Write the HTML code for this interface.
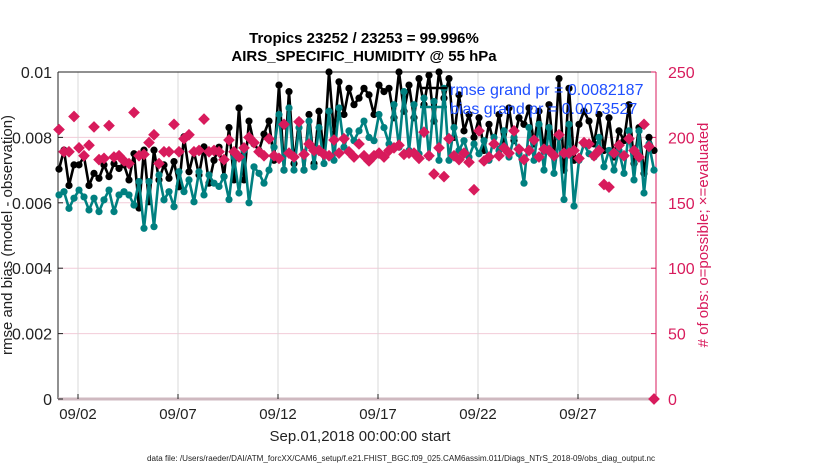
<!DOCTYPE html>
<html><head><meta charset="utf-8"><style>
body{margin:0;background:#fff;}
svg{font-family:"Liberation Sans",sans-serif;}
</style></head><body>
<svg id="chart" width="830" height="470">
</svg>
<script>
const rmseValues=[7.03,7.61,6.53,7.16,7.16,7.41,6.53,6.90,6.75,7.16,6.80,7.20,7.05,7.16,6.70,7.50,5.84,7.61,6.03,7.61,6.70,7.16,6.75,7.26,6.49,8.02,6.95,7.56,6.85,7.71,6.60,
7.3,7.7,6.8,8.3,6.7,8.9,6.7,8.5,7.8,7.6,8.1,8.5,7.3,9.6,7.0,9.4,7.2,8.5,7.0,8.7,7.2,8.8,7.5,10.0,8.1,9.7,8.7,9.5,9.0,9.2,
9.5,9.3,8.7,9.6,9.4,9.5,8.6,10.0,8.8,9.6,8.6,9.8,9.0,9.9,8.5,10.0,9.2,9.8,8.0,9.3,8.2,8.7,8.0,8.6,7.6,8.4,7.8,8.7,7.7,8.9,7.9,8.6,
8.4,8.9,7.8,8.8,7.6,9.0,7.4,9.8,7.0,9.5,7.3,8.4,8.8,8.5,7.8,8.7,7.6,8.6,7.4,8.2,7.9,9.0,7.2,8.3,6.9,8.0,7.6].map(v=>v/1000);
const biasValues=[6.24,6.34,5.83,6.14,6.39,6.18,5.78,6.14,5.73,6.09,6.39,5.73,6.24,6.34,6.24,5.93,6.65,5.22,6.65,5.27,6.85,6.09,6.34,5.88,6.95,6.34,6.70,6.03,6.95,6.24,6.85,
6.6,6.5,6.8,6.1,7.4,6.3,7.6,6.0,7.1,6.9,6.6,7.0,7.7,8.7,7.0,8.9,7.0,8.3,7.0,8.5,7.1,8.3,7.2,8.8,7.3,8.9,7.7,8.2,7.9,8.2,
8.5,8.0,7.9,8.7,8.3,7.8,9.0,7.7,9.4,7.6,9.0,7.5,9.2,7.4,9.1,7.3,9.5,7.3,8.3,7.6,7.9,7.4,7.8,7.5,7.9,7.3,8.0,7.6,8.2,7.4,8.0,7.5,
6.6,8.3,7.3,8.4,7.0,8.3,6.9,8.0,6.1,8.4,5.9,7.3,7.8,7.5,7.4,8.0,7.1,7.6,7.0,7.6,6.9,8.2,6.7,8.2,6.3,7.8,7.0].map(v=>v/1000);
const obsCounts=[206,189,189,216,192,186,194,208,183,184,209,185,186,182,180,219,186,187,196,202,180,189,189,210,189,199,202,189,190,214,189,
190,189,183,198,189,185,192,200,196,189,186,199,186,184,210,188,185,212,187,195,190,190,187,186,198,188,199,189,185,195,186,
182,186,188,185,190,192,194,187,188,188,184,204,186,172,192,170,199,186,183,188,181,160,205,182,185,195,186,192,188,205,191,183,
190,198,185,191,190,186,202,188,188,190,184,196,195,186,190,164,162,188,194,186,199,190,185,210,193,0];
const leftTicks=[0,0.002,0.004,0.006,0.008,0.01];
const rightTicks=[0,50,100,150,200,250];
const dateTicks=[2,7,12,17,22,27];
const dateLabels=["09/02","09/07","09/12","09/17","09/22","09/27"];

const NS="http://www.w3.org/2000/svg";
const svg=document.getElementById('chart');
const L=58,R=656,T=72,B=399;
const xS=d=>L+(d-1)*20;
const yL=v=>B-(v/0.01)*(B-T);
const yR=v=>B-(v/250)*(B-T);
const dayOf=i=>1.05+i*0.25;
function mk(tag,attrs,parent){const e=document.createElementNS(NS,tag);for(const k in attrs)e.setAttribute(k,attrs[k]);(parent||svg).appendChild(e);return e;}
const PINK="#d81b5c",TEAL="#008080";
rightTicks.forEach((t,i)=>{const g=mk('line',{x1:L,x2:R,y1:yR(t),y2:yR(t),stroke:'#f2cbd8','stroke-width':1});

});
dateTicks.forEach(d=>{const g=mk('line',{x1:xS(d),x2:xS(d),y1:T,y2:B,stroke:'#d8d8d8','stroke-width':1});

});
let a=mk('line',{x1:L,x2:L,y1:T,y2:B,stroke:'#222','stroke-width':1});


a=mk('line',{x1:L,x2:R,y1:T,y2:T,stroke:'#222','stroke-width':1});


a=mk('line',{x1:R,x2:R,y1:T,y2:B,stroke:PINK,'stroke-width':1});


a=mk('line',{x1:L,x2:R,y1:B,y2:B,stroke:'#cfb9c0','stroke-width':3});


leftTicks.forEach(t=>{const y=yL(t);
mk('line',{x1:L,x2:L+5,y1:y,y2:y,stroke:'#222'});
const tx=mk('text',{x:L-6,y:y+6,'text-anchor':'end','font-size':16,fill:'#222'});tx.textContent=String(t);

});
rightTicks.forEach(t=>{const y=yR(t);
mk('line',{x1:R-5,x2:R,y1:y,y2:y,stroke:PINK});
const tx=mk('text',{x:R+12,y:y+6,'font-size':16,fill:PINK});tx.textContent=String(t);

});
dateTicks.forEach((d,i)=>{mk('line',{x1:xS(d),x2:xS(d),y1:B-5,y2:B,stroke:'#222'});
const tx=mk('text',{x:xS(d),y:B+20,'text-anchor':'middle','font-size':15,fill:'#222'});tx.textContent=dateLabels[i];

});
function series(vals,color,name){
const pts=vals.map((v,i)=>xS(dayOf(i))+','+yL(v)).join(' ');
const pl=mk('polyline',{points:pts,fill:'none',stroke:color,'stroke-width':2.6,'stroke-linejoin':'round'});


vals.forEach((v,i)=>{const c=mk('circle',{cx:xS(dayOf(i)),cy:yL(v),r:3.6,fill:color});

});}
series(rmseValues,'#000','rmse');
series(biasValues,TEAL,'bias');
obsCounts.forEach((v,i)=>{const x=xS(dayOf(i)),y=yR(v);const s=4.8;
const p=mk('path',{d:`M${x} ${y-s}L${x+s} ${y}L${x} ${y+s}L${x-s} ${y}Z`,fill:PINK,stroke:PINK,'stroke-width':1.5});

});
</script>
<svg width="830" height="470" style="position:absolute;left:0;top:0">
<text x="364" y="43" text-anchor="middle" font-size="15" font-weight="bold" fill="#000">Tropics 23252 / 23253 = 99.996%</text>
<text x="364" y="61" text-anchor="middle" font-size="15" font-weight="bold" fill="#000">AIRS_SPECIFIC_HUMIDITY @ 55 hPa</text>
<line x1="420" x2="447" y1="88" y2="88" stroke="#000" stroke-width="2.5"/>
<line x1="420" x2="447" y1="107" y2="107" stroke="#008080" stroke-width="2.5"/>
<text x="450" y="95" font-size="16" fill="#1f4fff">rmse grand pr = 0.0082187</text>
<text x="450" y="114" font-size="16" fill="#1f4fff">bias grand pr = 0.0073527</text>
<text x="360" y="441" text-anchor="middle" font-size="15" fill="#222">Sep.01,2018 00:00:00 start</text>
<text x="401" y="461" text-anchor="middle" font-size="8" textLength="508" lengthAdjust="spacingAndGlyphs" fill="#222">data file: /Users/raeder/DAI/ATM_forcXX/CAM6_setup/f.e21.FHIST_BGC.f09_025.CAM6assim.011/Diags_NTrS_2018-09/obs_diag_output.nc</text>
<text transform="translate(12,235) rotate(-90)" text-anchor="middle" font-size="15" fill="#222">rmse and bias (model - observation)</text>
<text transform="translate(708,235) rotate(-90)" text-anchor="middle" font-size="15" fill="#d81b5c"># of obs: o=possible; ×=evaluated</text>
</svg>
</body></html>
